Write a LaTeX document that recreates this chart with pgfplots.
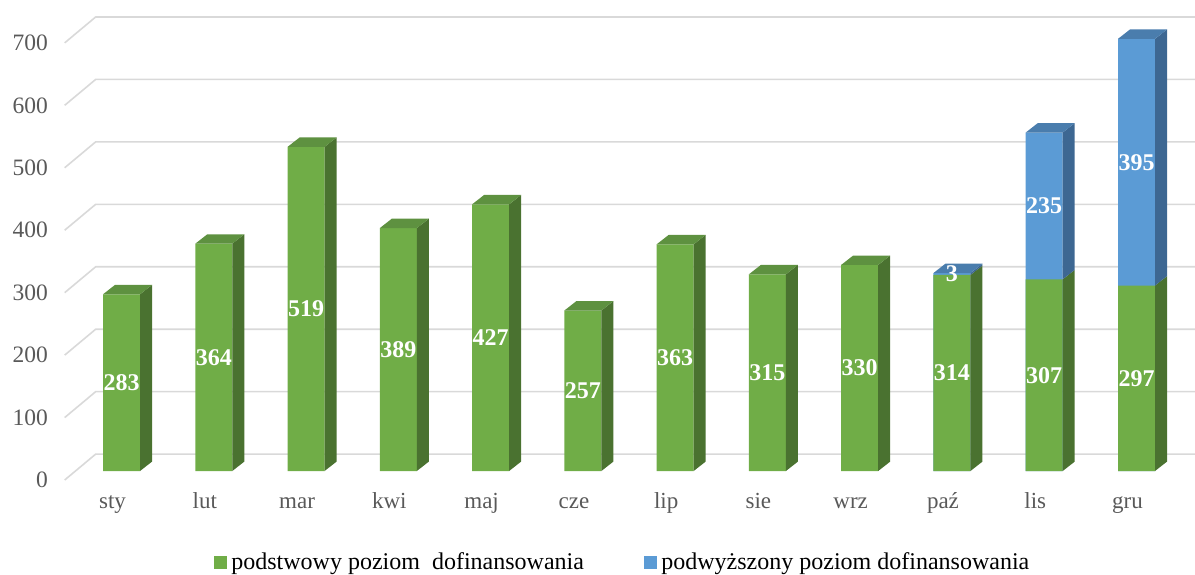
\documentclass[border=0pt]{standalone}
\usepackage{fontspec}
\setmainfont{Liberation Serif}
\usepackage{pgfplots}
\usepackage{pgfplotstable}
\pgfplotsset{compat=1.18}
\definecolor{gfront}{HTML}{70AD47}
\definecolor{gtop}{HTML}{5E9140}
\definecolor{gside}{HTML}{4A7230}
\definecolor{bfront}{HTML}{5B9BD5}
\definecolor{btop}{HTML}{4A7DAD}
\definecolor{bside}{HTML}{3D6792}
\definecolor{gridc}{HTML}{D9D9D9}
\definecolor{txt}{HTML}{595959}

\pgfplotstableread{
x g b tot
0 283 0 283
1 364 0 364
2 519 0 519
3 389 0 389
4 427 0 427
5 257 0 257
6 363 0 363
7 315 0 315
8 330 0 330
9 314 3 317
10 307 235 542
11 297 395 692
}\datatable

\def\myU{0.6245}
% side face of a segment, height \vh (data units), drawn from its top-front-right corner
\pgfdeclareplotmark{sidegreen}{%
  \pgfsetfillcolor{gside}%
  \pgfpathmoveto{\pgfqpoint{18.5pt}{0pt}}%
  \pgfpathlineto{\pgfqpoint{30.5pt}{9.4pt}}%
  \pgfpathlineto{\pgfpoint{30.5pt}{9.4pt-\myU pt*\vh}}%
  \pgfpathlineto{\pgfpoint{18.5pt}{0pt-\myU pt*\vh}}%
  \pgfpathclose\pgfusepathqfill
}
\pgfdeclareplotmark{sideblue}{%
  \pgfsetfillcolor{bside}%
  \pgfpathmoveto{\pgfqpoint{18.5pt}{0pt}}%
  \pgfpathlineto{\pgfqpoint{30.5pt}{9.4pt}}%
  \pgfpathlineto{\pgfpoint{30.5pt}{9.4pt-\myU pt*\vh}}%
  \pgfpathlineto{\pgfpoint{18.5pt}{0pt-\myU pt*\vh}}%
  \pgfpathclose\pgfusepathqfill
  \pgfsetfillcolor{btop}%
  \pgfpathmoveto{\pgfqpoint{-18.5pt}{0pt}}%
  \pgfpathlineto{\pgfqpoint{18.5pt}{0pt}}%
  \pgfpathlineto{\pgfqpoint{30.5pt}{9.4pt}}%
  \pgfpathlineto{\pgfqpoint{-6.5pt}{9.4pt}}%
  \pgfpathclose\pgfusepathqfill
}
\pgfdeclareplotmark{topgreen}{%
  \pgfsetfillcolor{gtop}%
  \pgfpathmoveto{\pgfqpoint{-18.5pt}{0pt}}%
  \pgfpathlineto{\pgfqpoint{18.5pt}{0pt}}%
  \pgfpathlineto{\pgfqpoint{30.5pt}{9.4pt}}%
  \pgfpathlineto{\pgfqpoint{-6.5pt}{9.4pt}}%
  \pgfpathclose\pgfusepathqfill
}

\begin{document}
\begin{tikzpicture}
\useasboundingbox (0,0) rectangle (1195pt,574pt);
\begin{axis}[
  at={(75.4pt,103pt)}, anchor=south west,
  x=92.27pt, y=0.6245pt,
  xmin=-0.5, xmax=11.5, ymin=0, ymax=760,
  clip=false,
  axis line style={draw=none},
  major tick length=0pt, tick style={draw=none},
  xtick={0,...,11},
  xticklabels={sty,lut,mar,kwi,maj,cze,lip,sie,wrz,paź,lis,gru},
  ytick={0,100,...,700},
  /pgf/number format/assume math mode=true,
  yticklabel style={font=\fontsize{23.5}{28}\selectfont, text=txt, anchor=east, inner sep=0pt, xshift=-27.4pt, yshift=-9pt},
  xticklabel style={font=\fontsize{23}{28}\selectfont, text=txt, anchor=base, inner sep=0pt, yshift=-37pt, xshift=-9pt},
  legend style={draw=none, fill=none, inner sep=0pt, outer sep=0pt,
    at={(rel axis cs:0,0)}, anchor=west, xshift=138.6pt, yshift=-91pt,
    font=\fontsize{24}{28}\selectfont,
    nodes={inner sep=0pt},
    /tikz/every odd column/.style={column sep=5pt},
    /tikz/every even column/.style={column sep=60pt}},
  legend columns=2,
  legend cell align=left,
]
\pgfplotsinvokeforeach{0,100,200,300,400,500,600,700}{
  \draw[gridc, line width=1.6pt] ([xshift=-10.7pt,yshift=-9pt]axis cs:-0.5,#1) -- ([xshift=20.3pt,yshift=16.9pt]axis cs:-0.5,#1) -- ([xshift=20.3pt,yshift=16.9pt]axis cs:11.414,#1);
}
\addlegendimage{legend image code/.code={\fill[gfront] (0pt,-6pt) rectangle (12pt,6pt);}}
\addlegendentry{podstwowy poziom\ \ dofinansowania}
\addlegendimage{legend image code/.code={\fill[bfront] (0pt,-6pt) rectangle (12pt,6pt);}}
\addlegendentry{podwyższony poziom dofinansowania}
% 3D side and top faces
\addplot[scatter, only marks, mark=sidegreen, forget plot,
  visualization depends on={\thisrow{g}\as\vh}]
  table[x=x,y=g]{\datatable};
\addplot[only marks, mark=topgreen, forget plot,
  skip coords between index={9}{12}]
  table[x=x,y=g]{\datatable};
\addplot[scatter, only marks, mark=sideblue, forget plot,
  visualization depends on={\thisrow{b}\as\vh},
  skip coords between index={0}{9}]
  table[x=x,y=tot]{\datatable};
% front faces
\addplot[ybar, bar width=37pt, bar shift=0pt, fill=bfront, draw=none, forget plot,
  skip coords between index={0}{9}]
  table[x=x,y=tot]{\datatable};
\addplot[ybar, bar width=37pt, bar shift=0pt, fill=gfront, draw=none, forget plot,
  nodes near coords,
  every node near coord/.append style={font=\fontsize{24}{28}\selectfont\bfseries, text=white, anchor=center, inner sep=0pt, yshift=-0.31225pt*\vg},
  visualization depends on={\thisrow{g}\as\vg}]
  table[x=x,y=g]{\datatable};
% labels of the blue segments
\addplot[draw=none, mark=none, forget plot,
  nodes near coords, point meta=\thisrow{b},
  every node near coord/.append style={font=\fontsize{24}{28}\selectfont\bfseries, text=white, anchor=center, inner sep=0pt, yshift=-0.31225pt*\vc},
  visualization depends on={\thisrow{b}\as\vc},
  skip coords between index={0}{9}]
  table[x=x,y=tot]{\datatable};
\end{axis}
\end{tikzpicture}
\end{document}
